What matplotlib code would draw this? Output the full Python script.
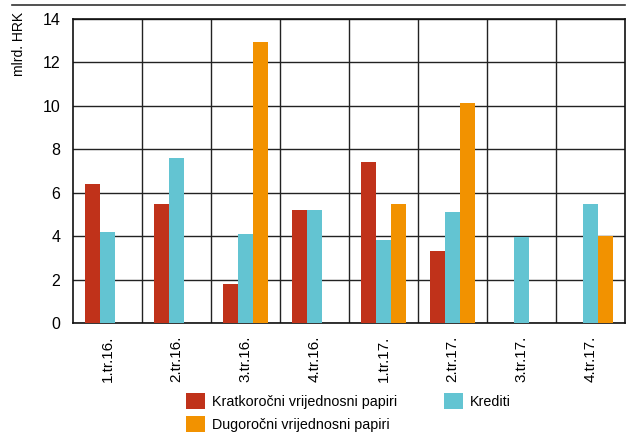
import matplotlib
matplotlib.use("Agg")
import matplotlib.pyplot as plt
import numpy as np

categories = ["1.tr.16.", "2.tr.16.", "3.tr.16.", "4.tr.16.", "1.tr.17.", "2.tr.17.", "3.tr.17.", "4.tr.17."]
kratkorocni = [6.4, 5.5, 1.8, 5.2, 7.4, 3.3, 0.0, 0.0]
krediti = [4.2, 7.6, 4.1, 5.2, 3.8, 5.1, 3.95, 5.5]
dugorocni = [0.0, 0.0, 12.95, 0.0, 5.5, 10.15, 0.0, 4.0]
series_names = ["Kratkoročni vrijednosni papiri", "Krediti", "Dugoročni vrijednosni papiri"]
colors = ["#C0321A", "#63C4D2", "#F29200"]

plt.rcParams['font.family'] = ['Liberation Sans', 'DejaVu Sans']
plt.rcParams['font.size'] = 11.5

fig = plt.figure(figsize=(6.28, 4.32), dpi=100)
ax = fig.add_axes([73/628, 1-323/432, 552/628, 304/432])

x = np.arange(len(categories))
w = 0.22
b1 = ax.bar(x - w, kratkorocni, w, color=colors[0], label=series_names[0], zorder=3)
b2 = ax.bar(x, krediti, w, color=colors[1], label=series_names[1], zorder=3)
b3 = ax.bar(x + w, dugorocni, w, color=colors[2], label=series_names[2], zorder=3)

ax.set_xlim(-0.5, len(categories) - 0.5)
ax.set_ylim(0, 14)
ax.set_yticks(range(0, 15, 2))
ax.set_xticks(x)
ax.set_xticklabels(categories, rotation=90, fontsize=11)
ax.set_xticks(np.arange(0.5, len(categories) - 0.5, 1), minor=True)
ax.tick_params(axis='both', which='both', length=0)
ax.tick_params(axis='x', pad=9)
ax.tick_params(axis='y', pad=9)
ax.grid(True, axis='y', which='major', color='#222222', linewidth=1.0, zorder=0)
ax.grid(True, axis='x', which='minor', color='#222222', linewidth=1.0, zorder=0)
ax.grid(False, axis='x', which='major')
for s in ax.spines.values():
    s.set_color('#111111')
    s.set_linewidth(1.2)

fig.text(19/628, 1-44/432, "mlrd. HRK", rotation=90, ha='center', va='center', fontsize=10)
fig.add_artist(plt.Line2D([12/628, 625/628], [1-4.5/432, 1-4.5/432], color='#333333', linewidth=1.2))

leg = fig.legend([b1, b3, b2], [series_names[0], series_names[2], series_names[1]],
                 loc='upper left', bbox_to_anchor=(186/628, 1-393/432), ncol=2,
                 frameon=False, handlelength=1.3, handleheight=1.3, handletextpad=0.5,
                 columnspacing=3.3, labelspacing=0.55, borderpad=0, borderaxespad=0, fontsize=10.3)

fig.savefig("out.png", dpi=100)
